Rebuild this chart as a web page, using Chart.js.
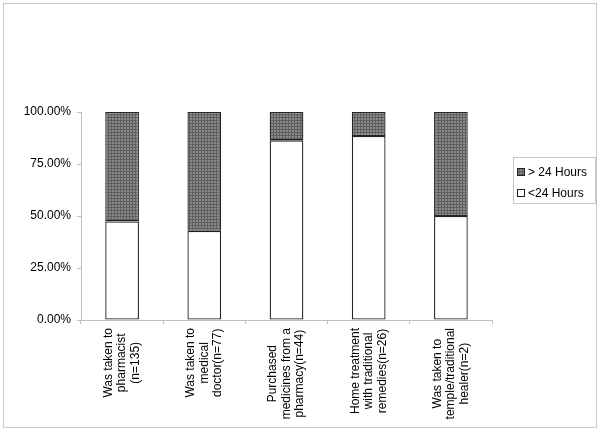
<!DOCTYPE html>
<html>
<head>
<meta charset="utf-8">
<script src="https://cdn.jsdelivr.net/npm/chart.js@4/dist/chart.umd.min.js"></script>
<style>
  html, body { margin: 0; padding: 0; background: #ffffff; }
  #wrap { position: relative; width: 600px; height: 431px; }
</style>
</head>
<body>
<div id="wrap"><canvas id="c" width="600" height="431"></canvas></div>
<script>
// ---- data ----
const categories = [
  ["Was taken to", "pharmacist", "(n=135)"],
  ["Was taken to", "medical", "doctor(n=77)"],
  ["Purchased", "medicines from a", "pharmacy(n=44)"],
  ["Home treatment", "with traditional", "remedies(n=26)"],
  ["Was taken to", "temple/traditional", "healer(n=2)"]
];
const seriesNames = ["<24 Hours", "> 24 Hours"];
const under24 = [47.41, 42.86, 86.36, 88.46, 50.00];
const over24 = [52.59, 57.14, 13.64, 11.54, 50.00];
const yTicks = [0, 25, 50, 75, 100];

// ---- styles ----
const FONT = "Liberation Sans, Arial, sans-serif";
function makePattern() {
  const p = document.createElement('canvas');
  p.width = 3; p.height = 3;
  const g = p.getContext('2d');
  g.fillStyle = '#8a8a8a';
  g.fillRect(0, 0, 3, 3);
  g.fillStyle = '#5e5e5e';
  g.fillRect(0, 0, 3, 1);
  g.fillRect(0, 0, 1, 3);
  return g.createPattern(p, 'repeat');
}
const grayFill = makePattern();

const decorPlugin = {
  id: 'decor',
  beforeDraw(chart) {
    const ctx = chart.ctx;
    ctx.save();
    ctx.fillStyle = '#ffffff';
    ctx.fillRect(0, 0, chart.width, chart.height);
    ctx.strokeStyle = '#c8c8c8';
    ctx.lineWidth = 1;
    ctx.strokeRect(3.5, 3.5, 593, 424);
    ctx.restore();
  },
  afterDraw(chart) {
    const ctx = chart.ctx;
    const xs = chart.scales.x;
    ctx.save();
    ctx.font = "12px " + FONT;
    ctx.fillStyle = '#000000';
    // category labels, rotated, lines centered
    chart.data.labels.forEach((lines, i) => {
      const x = xs.getPixelForValue(i);
      let maxW = 0;
      lines.forEach(l => { maxW = Math.max(maxW, ctx.measureText(l).width); });
      const cy = xs.top + 8 + maxW / 2;
      ctx.save();
      ctx.translate(x, cy);
      ctx.rotate(-Math.PI / 2);
      ctx.textAlign = 'center';
      ctx.textBaseline = 'middle';
      const lh = 13.5;
      lines.forEach((l, j) => {
        ctx.fillText(l, 0, (j - (lines.length - 1) / 2) * lh);
      });
      ctx.restore();
    });
    // legend (reverse order, like the reference)
    const bx = 513.5, by = 157.5, bw = 82, bh = 46;
    ctx.strokeStyle = '#c8c8c8';
    ctx.lineWidth = 1;
    ctx.strokeRect(bx, by, bw, bh);
    const items = chart.data.datasets.slice().reverse();
    items.forEach((ds, k) => {
      const cy = 172 + k * 21;
      ctx.fillStyle = ds.backgroundColor;
      ctx.fillRect(517.5, cy - 3.5, 7, 7);
      ctx.strokeStyle = '#222222';
      ctx.strokeRect(517.5, cy - 3.5, 7, 7);
      ctx.fillStyle = '#000000';
      ctx.textAlign = 'left';
      ctx.textBaseline = 'middle';
      ctx.fillText(ds.label, 528, cy + 0.5);
    });
    ctx.restore();
  }
};

new Chart(document.getElementById('c'), {
  type: 'bar',
  data: {
    labels: categories,
    datasets: [
      {
        label: seriesNames[0],
        data: under24,
        backgroundColor: '#ffffff',
        borderColor: '#222222',
        borderWidth: 1.3,
        borderSkipped: false
      },
      {
        label: seriesNames[1],
        data: over24,
        backgroundColor: grayFill,
        borderColor: '#222222',
        borderWidth: 1.3,
        borderSkipped: false
      }
    ]
  },
  options: {
    responsive: false,
    animation: false,
    devicePixelRatio: 1,
    layout: { padding: { left: 0, top: 112, right: 108, bottom: 111 } },
    plugins: { legend: { display: false }, tooltip: { enabled: false } },
    datasets: { bar: { categoryPercentage: 1.0, barPercentage: 0.41 } },
    scales: {
      x: {
        stacked: true,
        offset: true,
        grid: { display: true, drawOnChartArea: false, drawTicks: true, tickLength: 4, color: '#c0c0c0', offset: true },
        border: { display: true, color: '#c0c0c0', width: 1 },
        ticks: { display: false },
        afterFit(s) { s.height = 0; }
      },
      y: {
        stacked: true,
        min: 0,
        max: 100,
        afterBuildTicks(s) { s.ticks = yTicks.map(v => ({ value: v })); },
        grid: { display: true, drawOnChartArea: false, drawTicks: true, tickLength: 4, color: '#c0c0c0' },
        border: { display: true, color: '#c0c0c0', width: 1 },
        ticks: {
          color: '#000000',
          padding: 6,
          font: { family: FONT, size: 12 },
          callback: v => v.toFixed(2) + '%'
        },
        afterFit(s) { s.width = 81; }
      }
    }
  },
  plugins: [decorPlugin]
});
</script>
</body>
</html>
